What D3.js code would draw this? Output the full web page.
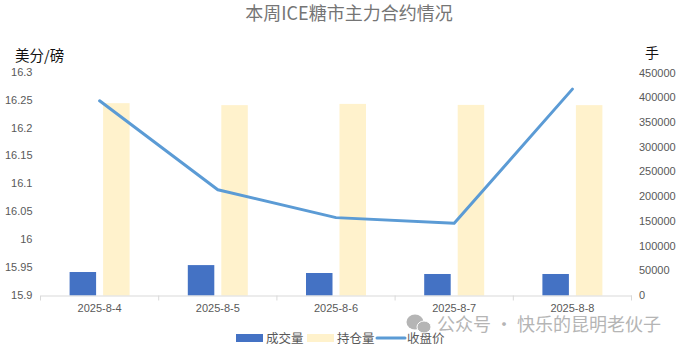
<!DOCTYPE html>
<html>
<head>
<meta charset="utf-8">
<script src="https://cdn.jsdelivr.net/npm/d3@7"></script>
<style>
  html, body { margin: 0; padding: 0; background: #fff; }
  svg { display: block; }
  text { font-family: "Noto Sans CJK SC", "Liberation Sans", sans-serif; }
</style>
</head>
<body>
<div id="chart"></div>
<script>
const dates = ["2025-8-4", "2025-8-5", "2025-8-6", "2025-8-7", "2025-8-8"];
const volume = [47500, 61500, 45500, 43500, 43500];
const openInterest = [389000, 385000, 387500, 385500, 385000];
const closePrice = [16.25, 16.09, 16.04, 16.03, 16.271];
const priceTicks = [15.9, 15.95, 16, 16.05, 16.1, 16.15, 16.2, 16.25, 16.3];
const volumeTicks = [0, 50000, 100000, 150000, 200000, 250000, 300000, 350000, 400000, 450000];

const width = 685, height = 351;
const plotLeft = 40.5, plotRight = 631.5, plotTop = 73, plotBottom = 295.5;

const svg = d3.select("#chart").append("svg")
    .attr("width", width)
    .attr("height", height);

const x = d3.scaleBand().domain(dates).range([plotLeft, plotRight]);
const yPrice = d3.scaleLinear().domain([15.9, 16.3]).range([plotBottom, plotTop]);
const yVolume = d3.scaleLinear().domain([0, 450000]).range([plotBottom, plotTop]);

const barW = 26.5, barGap = 7;

svg.append("g").selectAll("rect")
    .data(dates).enter()
  .append("rect")
    .attr("x", d => x(d) + x.bandwidth() / 2 - barGap / 2 - barW)
    .attr("y", (d, i) => yVolume(volume[i]))
    .attr("width", barW)
    .attr("height", (d, i) => plotBottom - yVolume(volume[i]))
    .attr("fill", "#4472c4");

svg.append("g").selectAll("rect")
    .data(dates).enter()
  .append("rect")
    .attr("x", d => x(d) + x.bandwidth() / 2 + barGap / 2)
    .attr("y", (d, i) => yVolume(openInterest[i]))
    .attr("width", barW)
    .attr("height", (d, i) => plotBottom - yVolume(openInterest[i]))
    .attr("fill", "#fff2cc");

const line = d3.line()
    .x((d, i) => x(dates[i]) + x.bandwidth() / 2)
    .y(d => yPrice(d));

svg.append("path")
    .datum(closePrice)
    .attr("d", line)
    .attr("fill", "none")
    .attr("stroke", "#5b9bd5")
    .attr("stroke-width", 3)
    .attr("stroke-linecap", "round")
    .attr("stroke-linejoin", "round");

// axes
const xAxis = svg.append("g")
    .attr("transform", `translate(0,${plotBottom})`)
    .call(d3.axisBottom(x).tickSize(0).tickPadding(9));
xAxis.select(".domain").attr("stroke", "#d9d9d9").attr("stroke-width", 1.2);
xAxis.selectAll("text").attr("font-size", 11).attr("fill", "#595959")
    .style("font-family", "'Liberation Sans', sans-serif");
xAxis.append("g").selectAll("line")
    .data(d3.range(dates.length + 1)).enter()
  .append("line")
    .attr("x1", i => plotLeft + i * x.step())
    .attr("x2", i => plotLeft + i * x.step())
    .attr("y1", 0)
    .attr("y2", 5)
    .attr("stroke", "#d9d9d9");

const leftAxis = svg.append("g")
    .attr("transform", `translate(${plotLeft - 8},-1)`)
    .call(d3.axisLeft(yPrice).tickValues(priceTicks).tickSize(0).tickPadding(0).tickFormat(d => String(+d.toFixed(2))));
leftAxis.select(".domain").remove();
leftAxis.selectAll("text").attr("font-size", 11).attr("fill", "#595959")
    .style("font-family", "'Liberation Sans', sans-serif");

const rightAxis = svg.append("g")
    .attr("transform", `translate(639,-0.5)`)
    .call(d3.axisRight(yVolume).tickValues(volumeTicks).tickSize(0).tickPadding(0).tickFormat(d3.format("d")));
rightAxis.select(".domain").remove();
rightAxis.selectAll("text").attr("font-size", 11).attr("fill", "#595959")
    .style("font-family", "'Liberation Sans', sans-serif");

// title and units
svg.append("text")
    .attr("x", 349).attr("y", 20)
    .attr("text-anchor", "middle")
    .attr("font-size", 18)
    .attr("fill", "#757575")
    .text("本周ICE糖市主力合约情况");

svg.append("text").attr("x", 15).attr("y", 61)
    .attr("font-size", 14.5).attr("fill", "#111").text("美分/磅");
svg.append("text").attr("x", 645).attr("y", 58)
    .attr("font-size", 14).attr("fill", "#111").text("手");

// legend
const legend = svg.append("g");
legend.append("rect").attr("x", 236).attr("y", 334).attr("width", 27).attr("height", 8).attr("fill", "#4472c4");
legend.append("text").attr("x", 266).attr("y", 343).attr("font-size", 12.5).attr("fill", "#595959").text("成交量");
legend.append("rect").attr("x", 307).attr("y", 334).attr("width", 27).attr("height", 8).attr("fill", "#fff2cc");
legend.append("text").attr("x", 337).attr("y", 343).attr("font-size", 12.5).attr("fill", "#595959").text("持仓量");
legend.append("line").attr("x1", 377).attr("x2", 405).attr("y1", 338).attr("y2", 338)
    .attr("stroke", "#5b9bd5").attr("stroke-width", 3).attr("stroke-linecap", "round");
legend.append("text").attr("x", 407).attr("y", 343).attr("font-size", 12.5).attr("fill", "#595959").text("收盘价");

// watermark
const mark = svg.append("g").attr("fill", "#b5b5b5");
mark.append("ellipse").attr("cx", 415).attr("cy", 322).attr("rx", 8.5).attr("ry", 7.5);
mark.append("ellipse").attr("cx", 424).attr("cy", 327).attr("rx", 7).attr("ry", 6).attr("stroke", "#fff").attr("stroke-width", 1);
svg.append("text").attr("x", 437).attr("y", 331)
    .attr("font-size", 18).attr("fill", "#b5b5b5")
    .text("公众号 · 快乐的昆明老伙子");
</script>
</body>
</html>
